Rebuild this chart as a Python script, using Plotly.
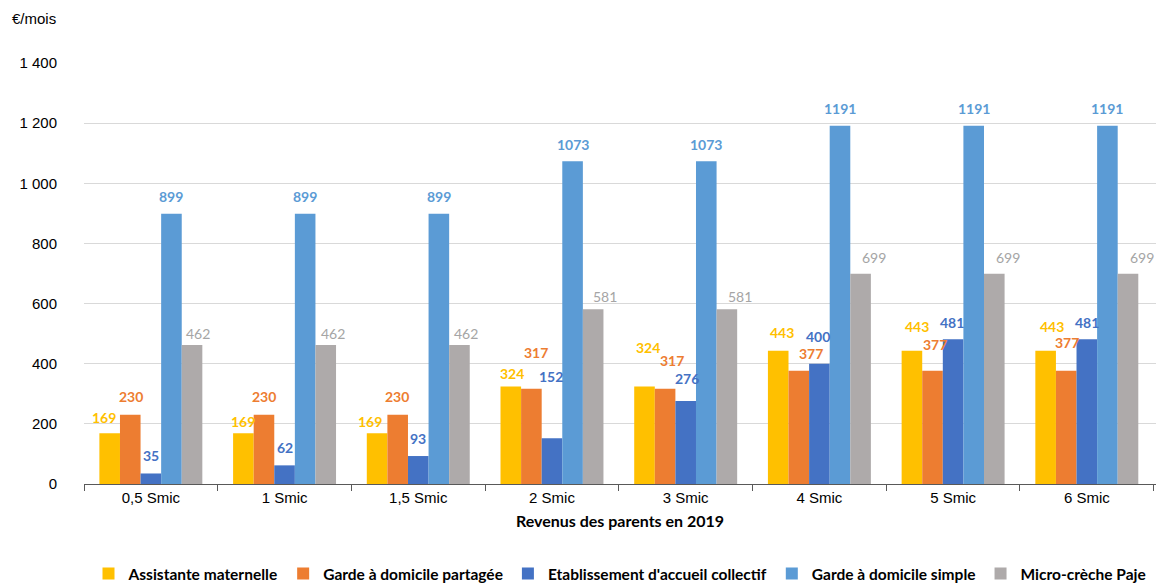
import plotly.graph_objects as go

categories = ["0,5 Smic", "1 Smic", "1,5 Smic", "2 Smic", "3 Smic", "4 Smic", "5 Smic", "6 Smic"]

assistante = [169, 169, 169, 324, 324, 443, 443, 443]
garde_partagee = [230, 230, 230, 317, 317, 377, 377, 377]
etablissement = [35, 62, 93, 152, 276, 400, 481, 481]
garde_simple = [899, 899, 899, 1073, 1073, 1191, 1191, 1191]
micro_creche = [462, 462, 462, 581, 581, 699, 699, 699]

series_names = [
    "Assistante maternelle",
    "Garde à domicile partagée",
    "Etablissement d'accueil collectif",
    "Garde à domicile simple",
    "Micro-crèche Paje",
]
series_values = [assistante, garde_partagee, etablissement, garde_simple, micro_creche]
bar_colors = ["#FFC000", "#ED7D31", "#4472C4", "#5B9BD5", "#AEAAAA"]
label_colors = ["#FFC000", "#ED7D31", "#4472C4", "#5B9BD5", "#A5A5A5"]
label_bold = [True, True, True, True, False]

# Hand-placed value labels: (horizontal nudge px, height of label centre above bar top px)
label_nudges = [
    [(-6, 16), (0, 12), (-7, 12), (1, 13), (3, 39), (4, 18), (5, 24), (6, 24)],
    [(1, 18), (0, 18), (-1, 18), (5, 36), (7, 28), (12, 17), (2, 26), (1, 28)],
    [(0, 18), (0, 18), (0, 18), (-1, 62), (1, 23), (-1, 27), (-1, 17), (0, 17)],
    [(0, 17)] * 8,
    [(6, 12), (7, 12), (7, 12), (12, 13), (13, 13), (13, 16), (14, 16), (14, 16)],
]

y_tickvals = [0, 200, 400, 600, 800, 1000, 1200, 1400]
y_ticktext = ["0", "200", "400", "600", "800", "1 000", "1 200", "1 400"]

LABEL_FONT = "Lato, 'Open Sans', sans-serif"
BAR_GAP = 0.23
n_series = len(series_names)
slot = (1 - BAR_GAP) / n_series

fig = go.Figure()
for name, vals, bc in zip(series_names, series_values, bar_colors):
    fig.add_trace(go.Bar(
        x=categories,
        y=vals,
        name="<b>%s</b>" % name,
        marker=dict(color=bc, line=dict(width=0)),
        hovertemplate="%{x}: %{y}<extra>" + name + "</extra>",
    ))

# Value labels above each bar
for s, (vals, lc, bold, nudges) in enumerate(zip(series_values, label_colors, label_bold, label_nudges)):
    for k, v in enumerate(vals):
        dx, dy = nudges[k]
        fig.add_annotation(
            x=k + (s - (n_series - 1) / 2) * slot,
            y=v,
            xref="x", yref="y",
            text=("<b>%d</b>" % v) if bold else str(v),
            showarrow=False,
            xanchor="center", yanchor="middle",
            xshift=dx, yshift=dy,
            font=dict(family=LABEL_FONT, size=14, color=lc),
        )

fig.update_layout(
    width=1158,
    height=583,
    margin=dict(l=84, r=2, t=63, b=99),
    plot_bgcolor="white",
    paper_bgcolor="white",
    barmode="group",
    bargap=BAR_GAP,
    bargroupgap=0,
    font=dict(family="Arial, 'Liberation Sans', sans-serif", size=15, color="#000000"),
    legend=dict(
        orientation="h",
        x=0.5,
        xanchor="center",
        y=9 / 583,
        yanchor="middle",
        yref="container",
        font=dict(family=LABEL_FONT, size=15.5, color="#000000"),
        itemwidth=30,
        traceorder="normal",
    ),
    xaxis=dict(
        showgrid=False,
        showline=True,
        linecolor="#595959",
        linewidth=1,
        ticks="outside",
        tickson="boundaries",
        ticklen=6,
        tickcolor="#595959",
        tickfont=dict(size=15),
        title=dict(
            text="<b>Revenus des parents en 2019</b>",
            font=dict(family=LABEL_FONT, size=16),
            standoff=10,
        ),
    ),
    yaxis=dict(
        range=[0, 1400],
        tickvals=y_tickvals,
        ticktext=y_ticktext,
        showgrid=True,
        gridcolor="#D9D9D9",
        gridwidth=1,
        zeroline=False,
        showline=False,
        ticks="",
        tickfont=dict(size=15),
        ticklabelstandoff=26,
    ),
)

fig.add_annotation(
    text="€/mois",
    xref="paper", yref="paper",
    x=0, xshift=-26, xanchor="right",
    y=1, yshift=45, yanchor="middle",
    showarrow=False,
    font=dict(size=15),
)

fig.write_html("out.html")
